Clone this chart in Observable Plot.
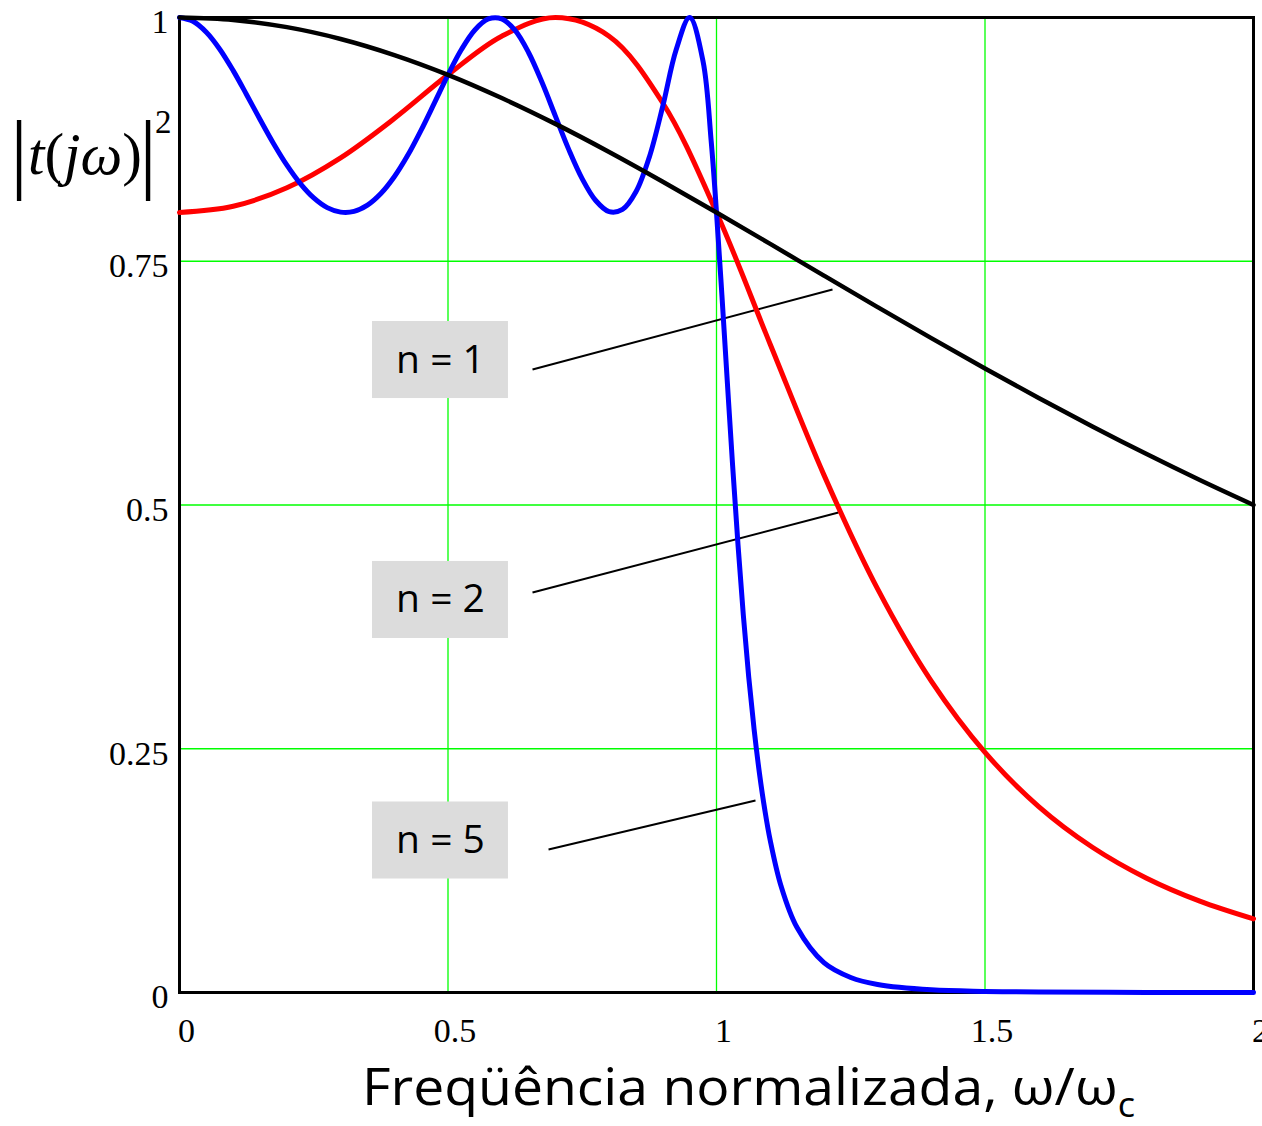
<!DOCTYPE html>
<html><head><meta charset="utf-8">
<script src="https://cdn.jsdelivr.net/npm/d3@7"></script>
<script src="https://cdn.jsdelivr.net/npm/@observablehq/plot@0.6"></script>
<style>body{margin:0;background:#fff;} #chart{position:absolute;left:0;top:0;}</style>
</head><body><div id="chart"></div>
<script>
// ---- data ----
const xTicks = [0, 0.5, 1, 1.5, 2];
const xTickLabels = ["0", "0.5", "1", "1.5", "2"];
const yTicks = [0, 0.25, 0.5, 0.75, 1];
const yTickLabels = ["0", "0.25", "0.5", "0.75", "1"];

const x12 = [0,0.1,0.2,0.3,0.4,0.5,0.6,0.7,0.8,0.9,1.0,1.1,1.2,1.3,1.4,1.5,1.6,1.7,1.8,1.9,2.0];
const yN1 = [1,0.9975,0.9901,0.978,0.9615,0.9412,0.9174,0.8909,0.8621,0.8316,0.8,0.7678,0.7353,0.703,0.6711,0.64,0.6098,0.5806,0.5525,0.5256,0.5];
const yN2 = [0.8,0.8064,0.8254,0.8561,0.8964,0.9412,0.9808,0.9999,0.9808,0.9123,0.8,0.6649,0.5309,0.4139,0.3193,0.2462,0.1907,0.149,0.1175,0.0937,0.0755];

const x5 = [0,0.025,0.05,0.075,0.1,0.125,0.15,0.175,0.2,0.225,0.25,0.275,0.3,0.325,0.35,0.375,0.4,0.425,0.45,0.475,0.5,0.525,0.55,0.575,0.6,0.625,0.65,0.675,0.7,0.725,0.75,0.775,0.8,0.825,0.85,0.875,0.9,0.925,0.95,0.975,0.99,1.0,1.01,1.02,1.03,1.04,1.05,1.06,1.07,1.08,1.09,1.1,1.12,1.15,1.2,1.25,1.3,1.4,1.5,1.6,1.8,2.0];
const yN5 = [1,0.9961,0.9849,0.9675,0.9455,0.9208,0.8954,0.8708,0.8485,0.8296,0.8149,0.805,0.8004,0.8011,0.8075,0.8194,0.8366,0.8586,0.8845,0.9127,0.9412,0.9671,0.9872,0.9985,0.9986,0.9867,0.9641,0.9335,0.8989,0.8645,0.8345,0.8123,0.8009,0.8031,0.8212,0.857,0.9092,0.9671,0.9999,0.9548,0.8739,0.8,0.7157,0.6275,0.5406,0.4595,0.3868,0.3236,0.2699,0.2248,0.1872,0.1562,0.1096,0.0666,0.0306,0.0154,0.0082,0.0027,0.0011,0.0005,0.0001,0];

// annotations
const labelText = ["n = 1", "n = 2", "n = 5"];
const labelX = [0.486, 0.486, 0.486];
const labelY = [0.6487, 0.4026, 0.1559];
const leaderX1 = [0.6574, 0.6574, 0.6872];
const leaderY1 = [0.639, 0.4103, 0.1467];
const leaderX2 = [1.216, 1.2272, 1.0726];
const leaderY2 = [0.721, 0.4923, 0.1969];

// ---- build tables ----
const rows = (xs, ys) => xs.map((x, i) => ({x, y: ys[i]}));
const s1 = rows(x12, yN1), s2 = rows(x12, yN2), s5 = rows(x5, yN5);
const ann = labelText.map((t, i) => ({t, x: labelX[i], y: labelY[i],
  x1: leaderX1[i], y1: leaderY1[i], x2: leaderX2[i], y2: leaderY2[i]}));
const boxHalfW = 0.1266, boxHalfH = 0.0395;

const chart = Plot.plot({
  width: 1262, height: 1126,
  marginLeft: 179, marginRight: 9, marginTop: 17, marginBottom: 134,
  x: {domain: [0, 2]},
  y: {domain: [0, 1]},
  style: {fontFamily: "'Liberation Serif', serif", fontSize: "34px", background: "white", overflow: "visible"},
  marks: [
    Plot.gridX([0.5, 1, 1.5], {stroke: "#00ff00", strokeOpacity: 1, strokeWidth: 1.3}),
    Plot.gridY([0.25, 0.5, 0.75], {stroke: "#00ff00", strokeOpacity: 1, strokeWidth: 1.3}),
    Plot.frame({stroke: "black", strokeWidth: 3}),
    Plot.axisX({ticks: xTicks, tickFormat: d => xTickLabels[xTicks.indexOf(d)], tickSize: 0, tickPadding: 25, dx: 7, label: null, fontSize: 34}),
    Plot.axisY({ticks: yTicks, tickFormat: d => yTickLabels[yTicks.indexOf(d)], tickSize: 0, tickPadding: 11, dy: 5, label: null, fontSize: 34}),
    Plot.rect(ann, {x1: d => d.x - boxHalfW, x2: d => d.x + boxHalfW, y1: d => d.y - boxHalfH, y2: d => d.y + boxHalfH, fill: "#dcdcdc"}),
    Plot.link(ann, {x1: "x1", y1: "y1", x2: "x2", y2: "y2", stroke: "black", strokeWidth: 2}),
    Plot.text(ann, {x: "x", y: "y", text: "t", fontFamily: "'Open Sans', sans-serif", fontSize: 39, fill: "black"}),
    Plot.line(s2, {x: "x", y: "y", stroke: "#ff0000", strokeWidth: 5, curve: "catmull-rom"}),
    Plot.line(s5, {x: "x", y: "y", stroke: "#0000ff", strokeWidth: 5, curve: "catmull-rom"}),
    Plot.line(s1, {x: "x", y: "y", stroke: "#000000", strokeWidth: 4.5, curve: "catmull-rom"})
  ]
});
document.getElementById("chart").appendChild(chart);

const svg = d3.select(chart);
// x-axis title
const xt = svg.append("text")
  .attr("x", 362).attr("y", 1105).attr("text-anchor", "start")
  .attr("font-family", "'Open Sans', sans-serif").attr("font-size", 52)
  .attr("textLength", 773).attr("lengthAdjust", "spacingAndGlyphs")
  .attr("fill", "black");
xt.append("tspan").text("Freqüência normalizada, ω/ω");
xt.append("tspan").attr("font-size", 34).attr("dy", 12).text("c");

// y-axis label |t(jω)|²
const yl = svg.append("g").attr("font-family", "'Liberation Serif', serif").attr("fill", "black").attr("text-anchor", "start");
yl.append("text").attr("x", 19).attr("y", 182).attr("font-size", 88).attr("text-anchor", "middle").text("|");
yl.append("text").attr("x", 148).attr("y", 182).attr("font-size", 88).attr("text-anchor", "middle").text("|");
const body = yl.append("text").attr("x", 28).attr("y", 174).attr("font-size", 60)
  .attr("textLength", 114).attr("lengthAdjust", "spacingAndGlyphs");
body.append("tspan").attr("font-style", "italic").text("t");
body.append("tspan").text("(");
body.append("tspan").attr("font-style", "italic").text("jω");
body.append("tspan").text(")");
yl.append("text").attr("x", 155).attr("y", 133).attr("font-size", 33).text("2");
</script>
</body></html>
